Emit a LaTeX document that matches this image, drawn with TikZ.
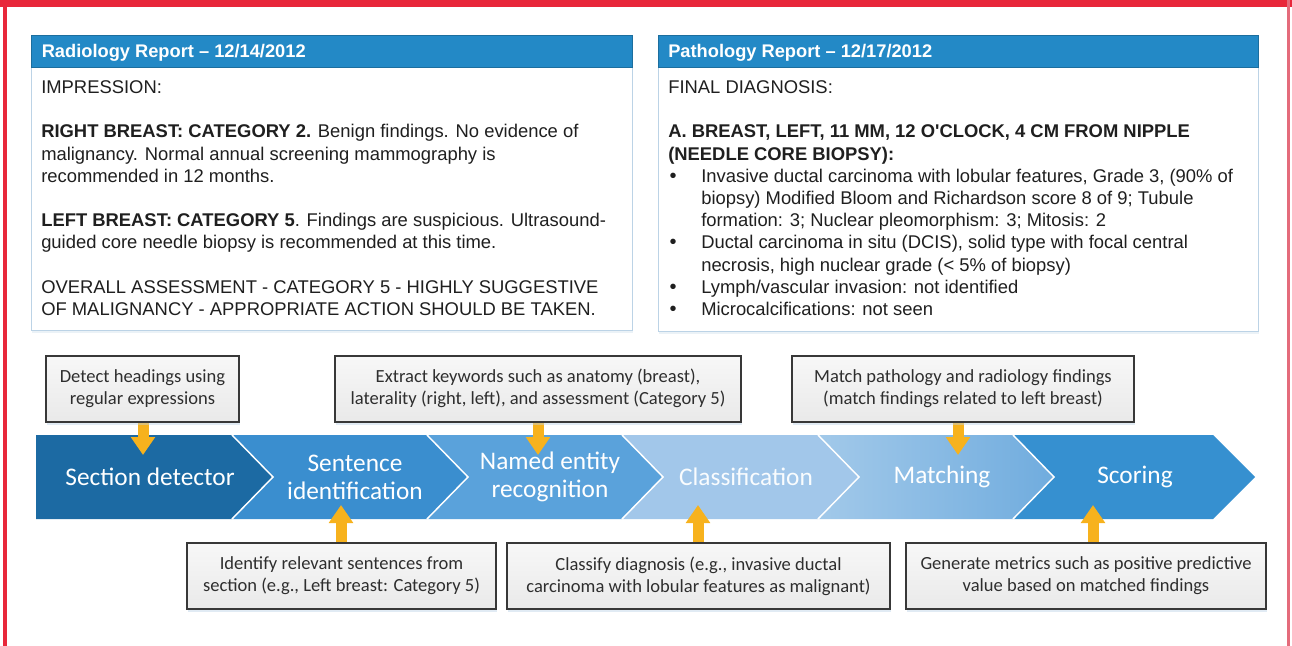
\documentclass[tikz,border=0pt]{standalone}
\usepackage{fontspec}
\setmainfont{Liberation Sans}
\newfontfamily\calfont{Carlito}
\usetikzlibrary{arrows.meta,shadows}
\newdimen\pxu \pxu=0.75pt
\definecolor{redb}{HTML}{E8273A}
\definecolor{redr}{HTML}{E46B7B}
\definecolor{headblue}{HTML}{2389C6}
\definecolor{bodyedge}{HTML}{BCD3E6}
\definecolor{chA}{HTML}{1C6AA3}
\definecolor{chB}{HTML}{3A8ECF}
\definecolor{chC}{HTML}{5AA2DB}
\definecolor{chD}{HTML}{A2C7EA}
\definecolor{chE}{HTML}{70ACDE}
\definecolor{chF}{HTML}{3690D0}
\definecolor{ayellow}{HTML}{F7B21D}
\begin{document}
\begin{tikzpicture}[x=0.75pt,y=-0.75pt,
  rtext/.style={anchor=base west, inner sep=0pt, font=\fontsize{13.8}{16.6}\selectfont, text=black!88},
  htext/.style={anchor=base west, inner sep=0pt, font=\bfseries\fontsize{13.7}{16}\selectfont, text=white},
  bul/.style={anchor=base, inner sep=0pt, font=\fontsize{15}{16.6}\selectfont, text=black!88},
  reportbox/.style={anchor=north west, draw=bodyedge, line width=0.8pt, fill=white, inner sep=0pt,
     drop shadow={fill=bodyedge, opacity=0.3, shadow xshift=0pt, shadow yshift=-2pt}},
  headbar/.style={anchor=north west, fill=headblue, draw=headblue!80!black, line width=0.4pt, inner sep=0pt},
  graybox/.style={draw=black!78, line width=1.5pt, top color=gray!6, bottom color=gray!17,
     align=center, inner sep=0pt, text=black!82,
     font=\calfont\fontsize{13.9}{16.5}\selectfont,
     drop shadow={fill=bodyedge, opacity=0.45, shadow xshift=1pt, shadow yshift=-2.5pt}},
  chevtext/.style={font=\calfont\fontsize{19}{21}\selectfont, text=white, align=center, inner sep=0pt},
  sep/.style={draw=white, line width=1.1pt},
  yarrow/.style={draw=ayellow, line width=8.25pt, -{Triangle[width=17.5pt,length=13.5pt]}}
]
\useasboundingbox (0,0) rectangle (1292,646);
% frame
\fill[redb] (0,0) rectangle (1292,7);
\fill[redb] (3.3,0) rectangle (6.7,646);
\fill[redr] (1287,0) rectangle (1290,646);

% report boxes
\node[reportbox, minimum width=601\pxu, minimum height=295\pxu] (radbox) at (31,35) {};
\node[headbar, minimum width=601\pxu, minimum height=32\pxu] (radhead) at (31,35) {};
\node[reportbox, minimum width=600\pxu, minimum height=296\pxu] (patbox) at (658,35) {};
\node[headbar, minimum width=600\pxu, minimum height=32\pxu] (pathead) at (658,35) {};

\node[htext] (radtitle) at (41.5,57.3) {Radiology Report -- 12/14/2012};
\node[htext] (pattitle) at (668,57.3) {Pathology Report -- 12/17/2012};

\node[rtext] (r1) at (41,93.5) {IMPRESSION:};
\node[rtext] (r2) at (41,137.8) {\textbf{RIGHT BREAST: CATEGORY 2.} Benign findings. No evidence of};
\node[rtext] (r3) at (41,160) {malignancy. Normal annual screening mammography is};
\node[rtext] (r4) at (41,182.2) {recommended in 12 months.};
\node[rtext] (r5) at (41,226.6) {\textbf{LEFT BREAST: CATEGORY 5}. Findings are suspicious. Ultrasound-};
\node[rtext] (r6) at (41,248.8) {guided core needle biopsy is recommended at this time.};
\node[rtext] (r7) at (41,293.2) {OVERALL ASSESSMENT - CATEGORY 5 - HIGHLY SUGGESTIVE};
\node[rtext] (r8) at (41,315.4) {OF MALIGNANCY - APPROPRIATE ACTION SHOULD BE TAKEN.};

\node[rtext] (p1) at (668,93.5) {FINAL DIAGNOSIS:};
\node[rtext] (p2) at (668,137.8) {\textbf{A. BREAST, LEFT, 11 MM, 12 O\textquotesingle CLOCK, 4 CM FROM NIPPLE}};
\node[rtext] (p3) at (668,160) {\textbf{(NEEDLE CORE BIOPSY):}};
\node[bul] (b1) at (673,182.2) {•};
\node[rtext] (p4) at (701,182.2) {Invasive ductal carcinoma with lobular features, Grade 3, (90\% of};
\node[rtext] (p5) at (701,204.4) {biopsy) Modified Bloom and Richardson score 8 of 9; Tubule};
\node[rtext] (p6) at (701,226.6) {formation: 3; Nuclear pleomorphism: 3; Mitosis: 2};
\node[bul] (b2) at (673,248.8) {•};
\node[rtext] (p7) at (701,248.8) {Ductal carcinoma in situ (DCIS), solid type with focal central};
\node[rtext] (p8) at (701,271) {necrosis, high nuclear grade (< 5\% of biopsy)};
\node[bul] (b3) at (673,293.2) {•};
\node[rtext] (p9) at (701,293.2) {Lymph/vascular invasion: not identified};
\node[bul] (b4) at (673,315.4) {•};
\node[rtext] (p10) at (701,315.4) {Microcalcifications: not seen};

% chevrons
\fill[chA] (36,435) -- (232,435) -- (273,477) -- (232,519) -- (36,519) -- cycle;
\fill[chB] (232,435) -- (427,435) -- (468,477) -- (427,519) -- (232,519) -- (273,477) -- cycle;
\fill[chC] (427,435) -- (622,435) -- (663,477) -- (622,519) -- (427,519) -- (468,477) -- cycle;
\fill[chD] (622,435) -- (818,435) -- (859,477) -- (818,519) -- (622,519) -- (663,477) -- cycle;
\shade[left color=chE!65!white, right color=chE] (818,435) -- (1013,435) -- (1054,477) -- (1013,519) -- (818,519) -- (859,477) -- cycle;
\fill[chF] (1013,435) -- (1213,435) -- (1255,477) -- (1213,519) -- (1013,519) -- (1054,477) -- cycle;
\draw[sep] (232,435) -- (273,477) -- (232,519);
\draw[sep] (427,435) -- (468,477) -- (427,519);
\draw[sep] (622,435) -- (663,477) -- (622,519);
\draw[sep] (818,435) -- (859,477) -- (818,519);
\draw[sep] (1013,435) -- (1054,477) -- (1013,519);

\node[chevtext] (c1) at (150,477) {Section detector};
\node[chevtext] (c2) at (355,477) {Sentence\\identification};
\node[chevtext] (c3) at (550,477) {Named entity\\recognition};
\node[chevtext, text=white!94!chD] (c4) at (746,477) {Classification};
\node[chevtext] (c5) at (942,477) {Matching};
\node[chevtext] (c6) at (1135,477) {Scoring};

% arrow tips
\coordinate (t1) at (143,455);
\coordinate (t2) at (341,505);
\coordinate (t3) at (538,455);
\coordinate (t4) at (698,505);
\coordinate (t5) at (958,455);
\coordinate (t6) at (1093,505);

% boxes (positions)
\coordinate (g1) at (142.5,388.5);
\coordinate (g3) at (538,388.5);
\coordinate (g5) at (963,388.5);
\coordinate (g2) at (341.5,576);
\coordinate (g4) at (698.5,576);
\coordinate (g6) at (1086,576);

\draw[yarrow] (t1 |- g1) -- (t1);
\draw[yarrow] (t3 |- g3) -- (t3);
\draw[yarrow] (t5 |- g5) -- (t5);
\draw[yarrow] (t2 |- g2) -- (t2);
\draw[yarrow] (t4 |- g4) -- (t4);
\draw[yarrow] (t6 |- g6) -- (t6);

\node[graybox, minimum width=193\pxu, minimum height=66\pxu] (bx1) at (g1) {Detect headings using\\regular expressions};
\node[graybox, minimum width=406\pxu, minimum height=66\pxu] (bx3) at (g3) {Extract keywords such as anatomy (breast),\\laterality (right, left), and assessment (Category 5)};
\node[graybox, minimum width=342\pxu, minimum height=66\pxu] (bx5) at (g5) {Match pathology and radiology findings\\(match findings related to left breast)};
\node[graybox, minimum width=309\pxu, minimum height=66\pxu] (bx2) at (g2) {Identify relevant sentences from\\section (e.g., Left breast: Category 5)};
\node[graybox, minimum width=383\pxu, minimum height=66\pxu] (bx4) at (g4) {Classify diagnosis (e.g., invasive ductal\\carcinoma with lobular features as malignant)};
\node[graybox, minimum width=360\pxu, minimum height=66\pxu] (bx6) at (g6) {Generate metrics such as positive predictive\\value based on matched findings};
\end{tikzpicture}
\end{document}
